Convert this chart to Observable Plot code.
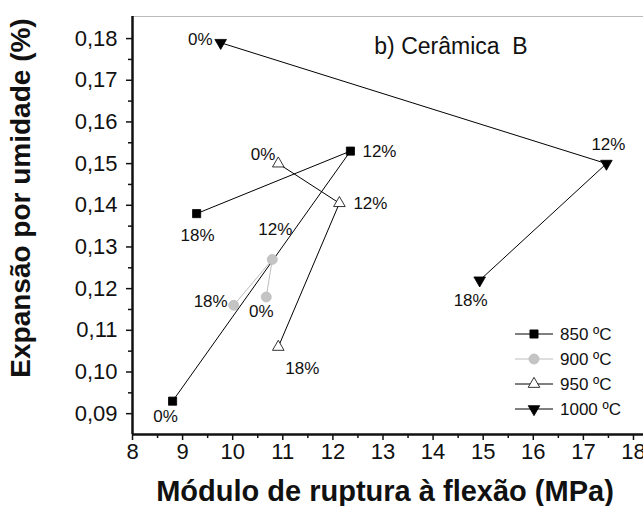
<!DOCTYPE html>
<html><head><meta charset="utf-8">
<script src="https://cdn.jsdelivr.net/npm/d3@7"></script>
<script src="https://cdn.jsdelivr.net/npm/@observablehq/plot@0.6"></script>
<style>
body{margin:0;background:#fff;}
#wrap{position:relative;width:643px;height:506px;overflow:hidden;}
#legend{position:absolute;left:0;top:0;pointer-events:none;}
svg text{font-family:"Liberation Sans",Arial,sans-serif;}
</style></head><body><div id="wrap"></div>
<script>
// ---- data ----
const pctLabels = ["0%", "12%", "18%"];
const series = ["850 ºC", "900 ºC", "950 ºC", "1000 ºC"];
const x850 = [8.8, 12.35, 9.28];   const y850 = [0.093, 0.153, 0.138];
const x900 = [10.67, 10.79, 10.02]; const y900 = [0.118, 0.127, 0.116];
const x950 = [10.91, 12.13, 10.91]; const y950 = [0.150, 0.1405, 0.106];
const x1000 = [9.76, 17.46, 14.93]; const y1000 = [0.179, 0.150, 0.122];
const xTicks = [8, 9, 10, 11, 12, 13, 14, 15, 16, 17, 18];
const yTicks = [0.09, 0.10, 0.11, 0.12, 0.13, 0.14, 0.15, 0.16, 0.17, 0.18];
const xTitle = "Módulo de ruptura à flexão (MPa)";
const yTitle = "Expansão por umidade (%)";
const subTitle = "b) Cerâmica\u00a0 B";

// ---- layout / style (not data) ----
const xDomain = [8, 18.2];
const yDomain = [0.085, 0.1853];
const styles = [
  {stroke: "#000", fill: "#000", symbol: "square", r: 4.6, rotate: 0},
  {stroke: "#bdbdbd", fill: "#c4c4c4", symbol: "circle", r: 5, rotate: 0},
  {stroke: "#000", fill: "#fff", symbol: "triangle", r: 4.3, rotate: 0},
  {stroke: "#000", fill: "#000", symbol: "triangle", r: 4.3, rotate: 180}
];
// label offsets per series, per point [dx, dy, anchor]
const labelOffsets = [
  [[-7, 15, "middle"], [12, 0, "start"], [1, 22, "middle"]],
  [[-5, 15, "middle"], [3, -30, "middle"], [-6, -4, "end"]],
  [[-3, -9, "end"], [14, 0, "start"], [24, 22, "middle"]],
  [[-8, -3, "end"], [2, -19, "middle"], [-9, 20, "middle"]]
];

const xs = [x850, x900, x950, x1000];
const ys = [y850, y900, y950, y1000];
const rows = series.map((s, k) => xs[k].map((x, i) => ({series: s, k, i, x, y: ys[k][i], label: pctLabels[i]})));

const minorX = d3.range(xTicks[0] + 0.5, xTicks[xTicks.length - 1], 1);
const minorY = yTicks.slice(0, -1).map(v => v + 0.005);
const fmt = d => d.toFixed(2).replace(".", ",");

const marks = [];
marks.push(Plot.ruleY([yDomain[1]], {stroke: "#bbb", strokeWidth: 1}));
rows.forEach((r, k) => marks.push(Plot.line(r, {x: "x", y: "y", stroke: styles[k].stroke, strokeWidth: 1})));
rows.forEach((r, k) => marks.push(Plot.dot(r, {x: "x", y: "y", symbol: styles[k].symbol, r: styles[k].r,
  fill: styles[k].fill, stroke: styles[k].stroke, strokeWidth: 0.8, rotate: styles[k].rotate})));
rows.forEach((r, k) => r.forEach((d, i) => {
  const [dx, dy, anchor] = labelOffsets[k][i];
  marks.push(Plot.text([d], {x: "x", y: "y", text: "label", dx, dy, textAnchor: anchor,
    fontSize: 17, fill: "#111", style: "letter-spacing:-0.8px"}));
}));
marks.push(Plot.axisY(yTicks, {tickSize: 6, tickPadding: 9, tickFormat: fmt, fontSize: 22, label: null, strokeWidth: 1.5}));
marks.push(Plot.axisY(minorY, {tickSize: 4, tickFormat: () => "", label: null, strokeWidth: 1.5}));
marks.push(Plot.axisX(xTicks, {tickSize: 6, tickPadding: 3, fontSize: 22, label: null, strokeWidth: 1.5}));
marks.push(Plot.axisX(minorX, {tickSize: 4, tickFormat: () => "", label: null, strokeWidth: 1.5}));
marks.push(Plot.ruleX([xDomain[0]], {strokeWidth: 2.5}));
marks.push(Plot.ruleY([yDomain[0]], {strokeWidth: 2.5}));
marks.push(Plot.text([subTitle], {frameAnchor: "top", dx: 63, dy: 21, fontSize: 23, fill: "#111"}));

const chart = Plot.plot({
  width: 643, height: 506,
  marginLeft: 132, marginRight: 0, marginTop: 16, marginBottom: 72,
  x: {domain: xDomain},
  y: {domain: yDomain},
  style: {background: "#fff", fontFamily: "Liberation Sans, Arial, sans-serif", color: "#111"},
  marks
});
const wrap = document.getElementById("wrap");
wrap.appendChild(chart);

// overlay: axis titles + legend
const lg = d3.select(wrap).append("svg").attr("id", "legend").attr("width", 643).attr("height", 506);
lg.append("text").attr("x", 385).attr("y", 501).attr("text-anchor", "middle")
  .attr("font-size", 29).attr("font-weight", "bold").attr("fill", "#111").text(xTitle);
lg.append("text").attr("transform", "translate(30,198) rotate(-90)").attr("text-anchor", "middle")
  .attr("font-size", 28).attr("font-weight", "bold").attr("fill", "#111").text(yTitle);
const legendRows = [334, 359, 384, 409];
series.forEach((s, k) => {
  const y = legendRows[k];
  lg.append("line").attr("x1", 515).attr("x2", 553).attr("y1", y).attr("y2", y).attr("stroke", styles[k].stroke).attr("stroke-width", 1);
  const sym = styles[k].symbol === "square" ? d3.symbolSquare : styles[k].symbol === "circle" ? d3.symbolCircle : d3.symbolTriangle;
  lg.append("path").attr("d", d3.symbol(sym, Math.PI * styles[k].r * styles[k].r)())
    .attr("transform", `translate(534,${y}) rotate(${styles[k].rotate})`)
    .attr("fill", styles[k].fill).attr("stroke", styles[k].stroke).attr("stroke-width", 0.8);
  lg.append("text").attr("x", 560).attr("y", y).attr("dy", "0.35em").attr("font-size", 17).attr("fill", "#111").text(s);
});
</script></body></html>
